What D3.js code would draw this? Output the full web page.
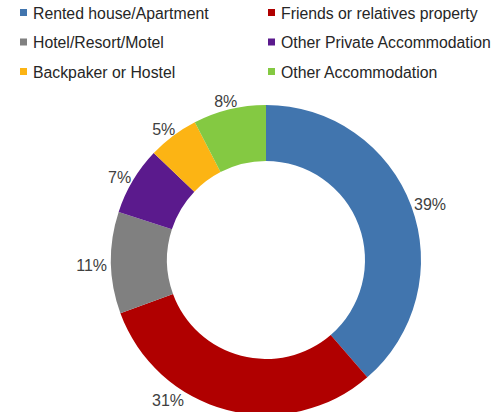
<!DOCTYPE html>
<html>
<head>
<meta charset="utf-8">
<script src="https://cdn.jsdelivr.net/npm/d3@7"></script>
<style>
  body { margin: 0; background: #fff; }
  svg { display: block; font-family: "Liberation Sans", Arial, sans-serif; }
</style>
</head>
<body>
<svg width="497" height="412"></svg>
<script>
var categories = ["Rented house/Apartment", "Friends or relatives property", "Hotel/Resort/Motel",
                  "Other Private Accommodation", "Backpaker or Hostel", "Other Accommodation"];
var values = [38.7, 30.8, 10.6, 7.1, 5.3, 7.6];
var colors = ["#4175ae", "#b00000", "#808080", "#5b1a8d", "#fcb414", "#84c942"];

var svg = d3.select("svg"),
    width = +svg.attr("width"),
    height = +svg.attr("height"),
    cx = 266, cy = 260,
    outerRadius = 155,
    innerRadius = 99;

var data = categories.map(function(c, i) { return {name: c, value: values[i], color: colors[i]}; });
var total = d3.sum(values);

// legend, two columns
var legend = svg.append("g")
    .selectAll("g")
    .data(data)
    .enter().append("g")
    .attr("transform", function(d, i) {
        return "translate(" + (i % 2 ? 268 : 20) + "," + (13 + Math.floor(i / 2) * 29.5) + ")";
    });

legend.append("rect")
    .attr("x", 0).attr("y", -4)
    .attr("width", 7).attr("height", 7)
    .attr("fill", function(d) { return d.color; });

legend.append("text")
    .attr("x", 13)
    .attr("dy", "0.35em")
    .style("font-size", "15.8px")
    .attr("fill", "#262626")
    .text(function(d) { return d.name; });

var pie = d3.pie().sort(null).value(function(d) { return d.value; });
var arc = d3.arc().innerRadius(innerRadius).outerRadius(outerRadius);

var g = svg.append("g").attr("transform", "translate(" + cx + "," + cy + ")");

var arcs = pie(data);

g.selectAll("path")
    .data(arcs)
    .enter().append("path")
    .attr("d", arc)
    .attr("fill", function(d) { return d.data.color; });

// outside-end labels, slid along the ring if they would fall off the picture
var labels = g.selectAll("text.lbl")
    .data(arcs)
    .enter().append("text")
    .attr("class", "lbl")
    .attr("text-anchor", "middle")
    .attr("dy", "0.5em")
    .style("font-size", "16px")
    .attr("fill", "#404040")
    .text(function(d) { return Math.round(d.data.value / total * 100) + "%"; });

labels.each(function(d) {
    var t = d3.select(this),
        bb = this.getBBox(),
        w = bb.width, h = 14,
        a = (d.startAngle + d.endAngle) / 2,
        r = outerRadius + 4,
        dir = a > Math.PI ? 1 : -1;
    function pos(a) {
        var px = r * Math.sin(a), py = -r * Math.cos(a);
        return [px + Math.sin(a) * w / 2, py - Math.cos(a) * h / 2];
    }
    var p = pos(a);
    while (cy + p[1] + h / 2 > height - 7) {
        a += dir * 0.01;
        p = pos(a);
    }
    t.attr("x", p[0]).attr("y", p[1]);
});
</script>
</body>
</html>
